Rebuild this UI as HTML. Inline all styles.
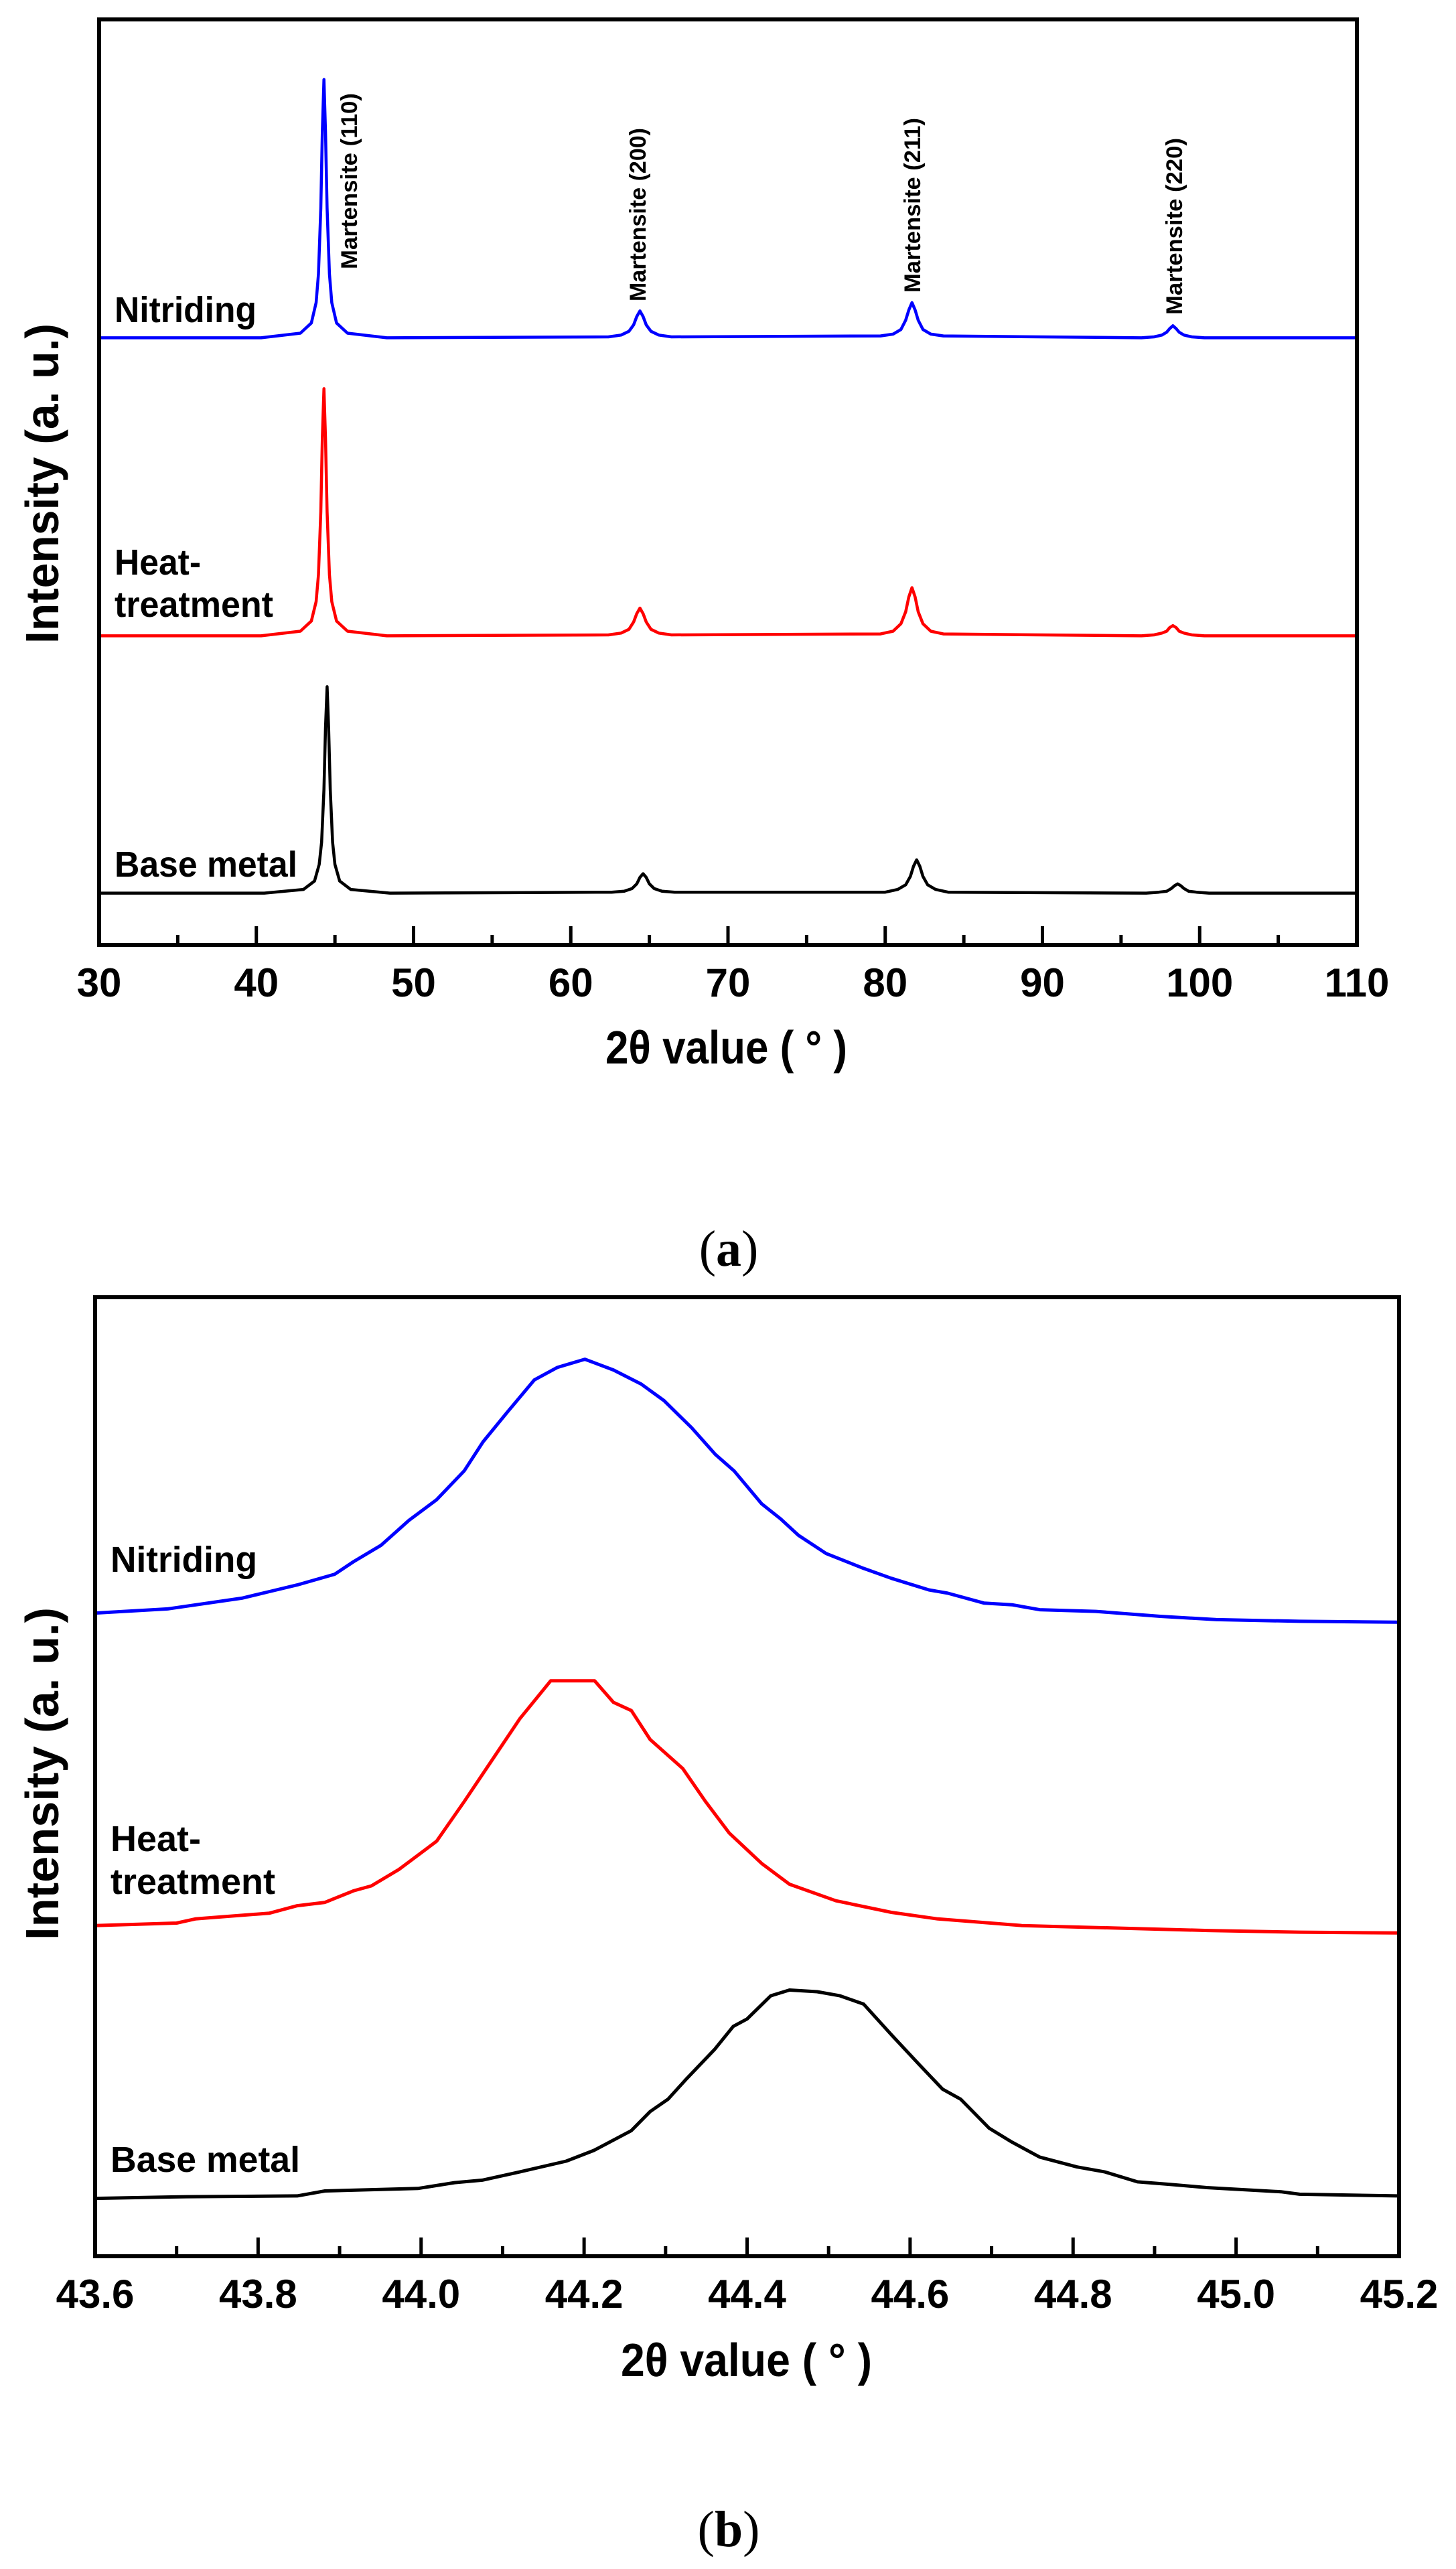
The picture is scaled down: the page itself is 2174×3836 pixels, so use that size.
<!DOCTYPE html>
<html><head><meta charset="utf-8"><title>XRD patterns</title>
<style>html,body{margin:0;padding:0;background:#fff;}svg{display:block;}</style></head>
<body>
<svg id="fig" xmlns="http://www.w3.org/2000/svg" width="2174" height="3836" viewBox="0 0 2174 3836" font-family="'Liberation Sans', sans-serif">
<rect x="0" y="0" width="2174" height="3836" fill="#fff"/>
<g id="chartA"></g>
<g id="chartB"></g>
<text x="1088" y="1890" text-anchor="middle" font-family="'Liberation Serif', serif" font-size="76">(<tspan font-weight="bold">a</tspan>)</text>
<text x="1088" y="3802" text-anchor="middle" font-family="'Liberation Serif', serif" font-size="76">(<tspan font-weight="bold">b</tspan>)</text>
</svg>
<script>
// ---------- Chart (a) data ----------
const aTicks = [30,40,50,60,70,80,90,100,110];
const aTickLabels = ["30","40","50","60","70","80","90","100","110"];
const aMinorTicks = [35,45,55,65,75,85,95,105];
const aNitX = [30,40.3,42.8,43.5,43.8,43.95,44.1,44.2,44.3,44.4,44.5,44.65,44.8,45.1,45.8,48.3,62.4,63.2,63.7,64.0,64.2,64.4,64.6,64.8,65.1,65.6,66.4,79.7,80.5,81.0,81.3,81.5,81.7,81.9,82.1,82.4,82.9,83.7,96.3,97.1,97.6,97.9,98.1,98.3,98.5,98.7,99.0,99.5,100.3,110];
const aNitY = [656,656,661,672,694,725,796,879,935,879,796,725,694,672,661,656,657,659,663,670,679,685,679,670,663,659,657,658,660,665,675,686,694,686,675,665,660,658,656,657,659,662,666,669,666,662,659,657,656,656];
const aHeatX = [30,40.3,42.8,43.5,43.8,43.95,44.1,44.2,44.3,44.4,44.5,44.65,44.8,45.1,45.8,48.3,62.4,63.2,63.7,64.0,64.2,64.4,64.6,64.8,65.1,65.6,66.4,79.7,80.5,81.0,81.3,81.5,81.7,81.9,82.1,82.4,82.9,83.7,96.3,97.1,97.6,97.9,98.1,98.3,98.5,98.7,99.0,99.5,100.3,110];
const aHeatY = [334,334,339,350,371,400,468,548,601,548,468,400,371,350,339,334,335,337,341,349,358,364,358,349,341,337,335,336,339,347,360,376,386,376,360,347,339,336,334,335,337,339,343,345,343,339,337,335,334,334];
const aBaseX = [30,40.5,43.0,43.7,44.0,44.15,44.3,44.4,44.5,44.6,44.7,44.85,45.0,45.3,46.0,48.5,62.6,63.4,63.9,64.2,64.4,64.6,64.8,65.0,65.3,65.8,66.6,80.0,80.8,81.3,81.6,81.8,82.0,82.2,82.4,82.7,83.2,84.0,96.6,97.4,97.9,98.2,98.4,98.6,98.8,99.0,99.3,99.8,100.6,110];
const aBaseY = [56,56,60,69,87,111,168,234,279,234,168,111,87,69,60,56,57,58,61,66,73,77,73,66,61,58,57,57,60,65,74,85,92,85,74,65,60,57,56,57,58,61,64,66,64,61,58,57,56,56];

// ---------- Chart (b) data ----------
const bTicks = [43.6,43.8,44.0,44.2,44.4,44.6,44.8,45.0,45.2];
const bTickLabels = ["43.6","43.8","44.0","44.2","44.4","44.6","44.8","45.0","45.2"];
const bMinorTicks = [43.7,43.9,44.1,44.3,44.5,44.7,44.9,45.1];
const bNitX = [43.600,43.689,43.780,43.814,43.848,43.894,43.917,43.951,43.985,44.019,44.053,44.076,44.105,44.139,44.167,44.201,44.236,44.270,44.298,44.332,44.361,44.384,44.418,44.441,44.463,44.497,44.543,44.577,44.623,44.646,44.691,44.725,44.759,44.828,44.907,44.976,45.078,45.198];
const bNitY = [778,783,796,804,812,825,840,860,890,915,950,985,1020,1060,1075,1085,1072,1055,1035,1002,970,950,910,892,872,850,832,820,806,802,790,788,782,780,774,770,768,767];
const bHeatX = [43.600,43.700,43.723,43.814,43.848,43.882,43.917,43.939,43.973,44.019,44.053,44.087,44.121,44.159,44.213,44.236,44.258,44.281,44.321,44.349,44.378,44.418,44.452,44.509,44.577,44.634,44.737,44.851,44.965,45.078,45.198];
const bHeatY = [400,403,408,415,424,428,442,448,468,502,550,600,650,696,696,670,660,625,590,550,512,475,450,430,416,408,400,397,394,392,391];
const bBaseX = [43.600,43.712,43.848,43.882,43.996,44.041,44.075,44.121,44.178,44.212,44.258,44.281,44.303,44.326,44.360,44.383,44.400,44.429,44.452,44.486,44.514,44.543,44.577,44.611,44.640,44.662,44.697,44.725,44.759,44.805,44.839,44.879,44.918,44.964,45.055,45.078,45.198];
const bBaseY = [70,72,73,79,82,89,92,102,115,128,152,175,190,215,250,278,287,315,322,320,315,305,268,232,202,190,155,138,120,108,102,90,87,83,78,75,73];

const NS = "http://www.w3.org/2000/svg";
function mk(parent, tag, attrs){ const e=document.createElementNS(NS,tag); for(const k in attrs) e.setAttribute(k,attrs[k]); parent.appendChild(e); return e; }

function drawChart(g, cfg){
  const sx = v => cfg.x0 + (v-cfg.xmin)/(cfg.xmax-cfg.xmin)*(cfg.x1-cfg.x0);
  const sy = v => cfg.y1 - (v-cfg.ymin)/(cfg.ymax-cfg.ymin)*(cfg.y1-cfg.y0);
  cfg.series.forEach(s=>{
    let d=""; s.x.forEach((xv,i)=>{ d += (i?"L":"M")+sx(xv).toFixed(1)+" "+sy(s.y[i]).toFixed(1); });
    const p = mk(g,"path",{d:d,fill:"none",stroke:s.color,"stroke-width":cfg.lw,"stroke-linejoin":"round"});
    
    
  });
  const fr = mk(g,"rect",{x:cfg.x0,y:cfg.y0,width:cfg.x1-cfg.x0,height:cfg.y1-cfg.y0,fill:"none",stroke:"#000","stroke-width":6});
  
  
  cfg.ticks.forEach((t,i)=>{
    const l = mk(g,"line",{x1:sx(t),x2:sx(t),y1:cfg.y1,y2:cfg.y1-28,stroke:"#000","stroke-width":5});
    
    
    const tx = mk(g,"text",{x:sx(t),y:cfg.tickY,"text-anchor":"middle","font-size":60,"font-weight":"bold"});
    tx.textContent = cfg.tickLabels[i];
    
    
  });
  cfg.minor.forEach(t=>{
    const l = mk(g,"line",{x1:sx(t),x2:sx(t),y1:cfg.y1,y2:cfg.y1-15,stroke:"#000","stroke-width":5});
    
    
  });
}

drawChart(document.getElementById("chartA"),{
  x0:148,x1:2026,y0:29,y1:1411,xmin:30,xmax:110,ymin:0,ymax:1000,lw:4.5,
  ticks:aTicks,tickLabels:aTickLabels,minor:aMinorTicks,tickY:1488,
  series:[{name:"nitriding-series",x:aNitX,y:aNitY,color:"#0000ff"},
          {name:"heat-treatment-series",x:aHeatX,y:aHeatY,color:"#ff0000"},
          {name:"base-metal-series",x:aBaseX,y:aBaseY,color:"#000000"}]
});
drawChart(document.getElementById("chartB"),{
  x0:142,x1:2089,y0:1937,y1:3369,xmin:43.6,xmax:45.2,ymin:0,ymax:1160,lw:5,
  ticks:bTicks,tickLabels:bTickLabels,minor:bMinorTicks,tickY:3446,
  series:[{name:"nitriding-series",x:bNitX,y:bNitY,color:"#0000ff"},
          {name:"heat-treatment-series",x:bHeatX,y:bHeatY,color:"#ff0000"},
          {name:"base-metal-series",x:bBaseX,y:bBaseY,color:"#000000"}]
});

const svg = document.getElementById("fig");
function label(txt, x, y, size, w, name, extra){
  const t = mk(svg,"text",Object.assign({x:x,y:y,"font-size":size,"font-weight":"bold",textLength:w,lengthAdjust:"spacingAndGlyphs"},extra||{}));
  t.textContent = txt;
  
  
  return t;
}
label("Nitriding",171,481,54,212,"label-nitriding-a");
label("Heat-",171,858,54,129,"label-heat-a");
label("treatment",171,921,54,237,"label-treatment-a");
label("Base metal",171,1309,54,273,"label-base-metal-a");
label("Nitriding",165,2347,54,219,"label-nitriding-b");
label("Heat-",165,2764,54,135,"label-heat-b");
label("treatment",165,2828,54,246,"label-treatment-b");
label("Base metal",165,3243,54,283,"label-base-metal-b");
label("2θ value ( ° )",904,1588,70,361,"x-axis-title-a");
label("2θ value ( ° )",927,3548,70,375,"x-axis-title-b");
label("Intensity (a. u.)",87,961,70,478,"y-axis-title-a",{transform:"rotate(-90 87 961)"});
label("Intensity (a. u.)",87,2897,70,497,"y-axis-title-b",{transform:"rotate(-90 87 2897)"});
label("Martensite (110)",533,402,34,263,"peak-label-110",{transform:"rotate(-90 533 402)"});
label("Martensite (200)",964,450,34,259,"peak-label-200",{transform:"rotate(-90 964 450)"});
label("Martensite (211)",1374,437,34,261,"peak-label-211",{transform:"rotate(-90 1374 437)"});
label("Martensite (220)",1765,470,34,264,"peak-label-220",{transform:"rotate(-90 1765 470)"});
</script>
</body></html>
